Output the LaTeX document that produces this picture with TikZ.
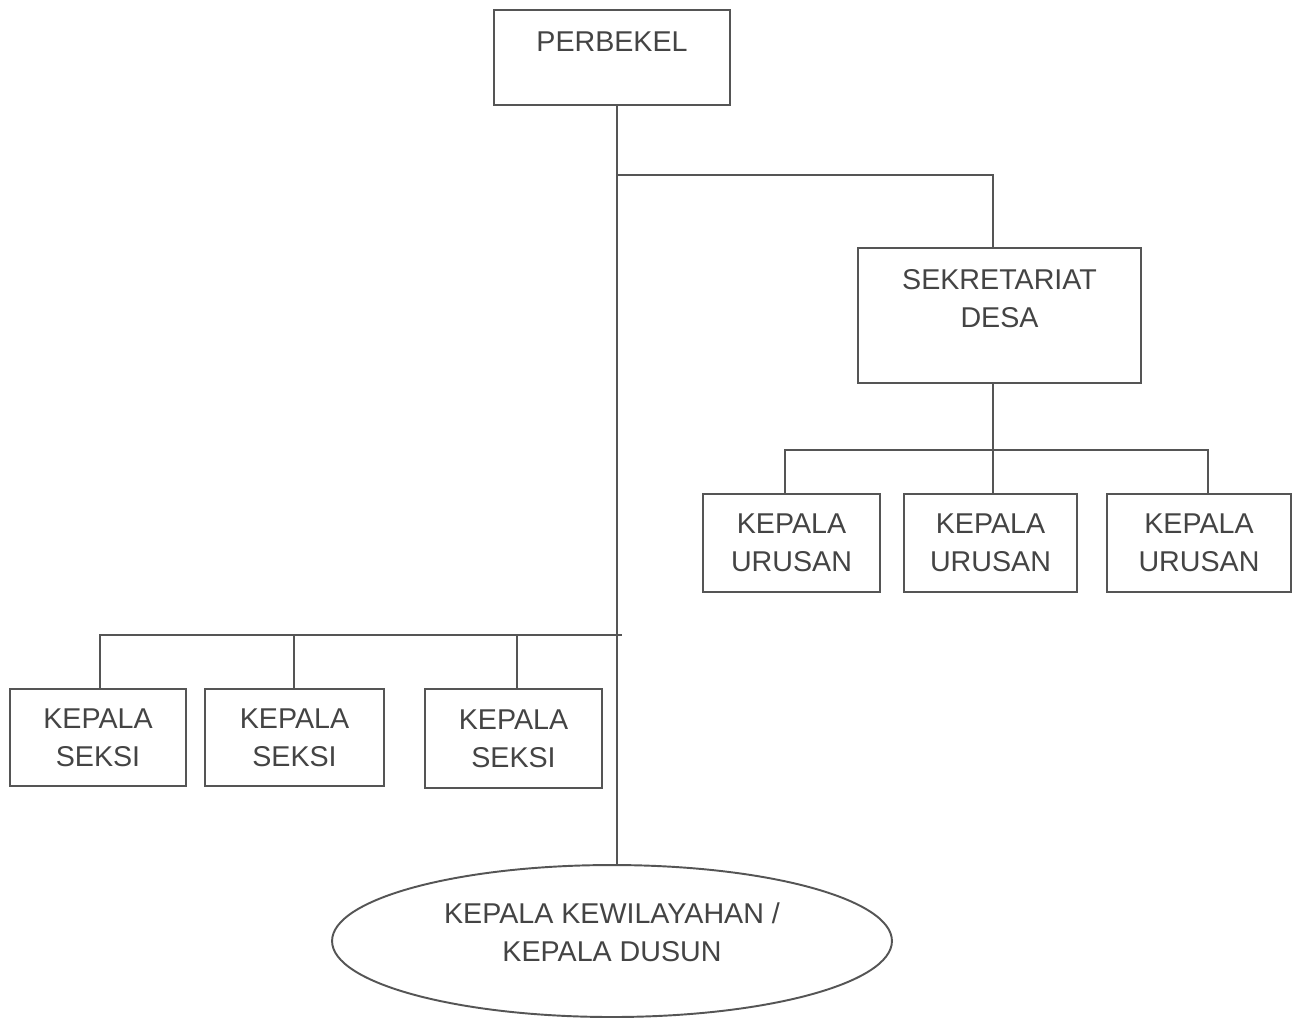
\documentclass[tikz,border=0pt]{standalone}
\usepackage{fontspec}
\setmainfont{Liberation Sans}
\usetikzlibrary{shapes.geometric}
\definecolor{ln}{HTML}{555555}
\definecolor{tx}{HTML}{444444}
\tikzset{
  box/.style={draw=ln, line width=1.1pt, rectangle, inner sep=0pt},
  txt/.style={text=tx, font=\fontsize{16.3}{21.6}\selectfont, align=center, inner sep=0pt},
  conn/.style={draw=ln, line width=1.1pt}
}
\begin{document}
\begin{tikzpicture}[x=0.02cm, y=-0.02cm]
\useasboundingbox[fill=white] (0,0) rectangle (1293,1019);
% boxes
\node[box, minimum width=4.72cm, minimum height=1.9cm] (perb) at (612,57.5) {};
\node[txt] (perbt) at (612,42) {PERBEKEL};
\node[box, minimum width=5.66cm, minimum height=2.7cm] (sek) at (999.5,315.5) {};
\node[txt] (sekt) at (999.5,299) {SEKRETARIAT\\DESA};
\node[box, txt, minimum width=3.54cm, minimum height=1.96cm] (u1) at (791.5,543) {KEPALA\\URUSAN};
\node[box, txt, minimum width=3.46cm, minimum height=1.96cm] (u2) at (990.5,543) {KEPALA\\URUSAN};
\node[box, txt, minimum width=3.68cm, minimum height=1.96cm] (u3) at (1199,543) {KEPALA\\URUSAN};
\node[box, txt, minimum width=3.52cm, minimum height=1.94cm] (s1) at (98,737.5) {KEPALA\\SEKSI};
\node[box, txt, minimum width=3.58cm, minimum height=1.94cm] (s2) at (294.5,737.5) {KEPALA\\SEKSI};
\node[box, txt, minimum width=3.54cm, minimum height=1.98cm] (s3) at (513.5,738.5) {KEPALA\\SEKSI};
\node[draw=ln, line width=1.1pt, ellipse, inner sep=0pt, minimum width=11.2cm, minimum height=3.04cm] (dus) at (612,941) {};
\node[txt] (dust) at (612,932) {KEPALA KEWILAYAHAN /\\KEPALA DUSUN};
% connectors
\coordinate (j1) at (617,175);
\coordinate (j2) at (622,635);
\coordinate (j3) at (1208,450);
\draw[conn] (perb.south -| 617,0) -- (dus.north -| 617,0);
\draw[conn] (j1) -| (sek.north -| 993,0);
\draw[conn] (sek.south -| 993,0) -- (993,450);
\draw[conn] (u1.north -| 785,0) |- (j3) -- (u3.north -| j3);
\draw[conn] (993,450) -- (u2.north -| 993,0);
\draw[conn] (s1.north -| 100,0) |- (j2);
\draw[conn] (294,635) -- (s2.north -| 294,0);
\draw[conn] (517,635) -- (s3.north -| 517,0);
\end{tikzpicture}
\end{document}
